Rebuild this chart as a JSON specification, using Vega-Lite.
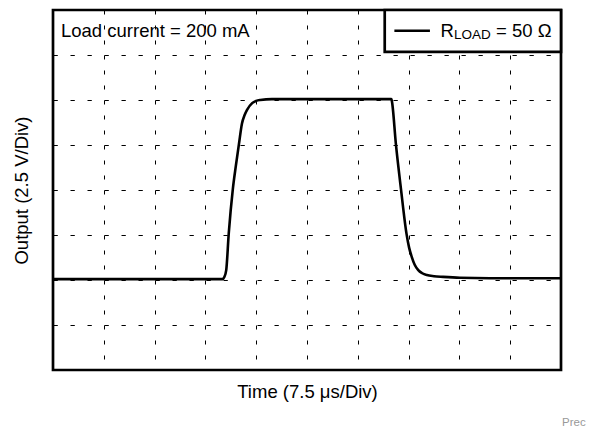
{
  "$schema": "https://vega.github.io/schema/vega-lite/v6.json",
  "width": 508,
  "height": 360,
  "autosize": {"type": "none"},
  "padding": {"left": 53, "top": 10, "right": 28, "bottom": 58},
  "background": "white",
  "config": {
    "view": {"stroke": "black", "strokeWidth": 2.7},
    "font": "Liberation Sans",
    "text": {"font": "Liberation Sans", "color": "black"}
  },
  "datasets": {
    "trace": [
      {"t": 0, "v": 2.02},
      {"t": 3.34, "v": 2.02},
      {"t": 3.37, "v": 2.06},
      {"t": 3.41, "v": 2.22},
      {"t": 3.46, "v": 3.04},
      {"t": 3.54, "v": 4.02},
      {"t": 3.60, "v": 4.54},
      {"t": 3.66, "v": 5.02},
      {"t": 3.72, "v": 5.48},
      {"t": 3.77, "v": 5.66},
      {"t": 3.82, "v": 5.78},
      {"t": 3.92, "v": 5.93},
      {"t": 4.00, "v": 5.98},
      {"t": 4.08, "v": 6.0},
      {"t": 4.31, "v": 6.02},
      {"t": 6.66, "v": 6.02},
      {"t": 6.67, "v": 5.98},
      {"t": 6.75, "v": 5.02},
      {"t": 6.85, "v": 4.02},
      {"t": 6.96, "v": 3.02},
      {"t": 7.01, "v": 2.72},
      {"t": 7.06, "v": 2.52},
      {"t": 7.12, "v": 2.34},
      {"t": 7.19, "v": 2.22},
      {"t": 7.27, "v": 2.15},
      {"t": 7.36, "v": 2.11},
      {"t": 7.50, "v": 2.085},
      {"t": 7.68, "v": 2.07},
      {"t": 8.01, "v": 2.05},
      {"t": 8.6, "v": 2.04},
      {"t": 10, "v": 2.04}
    ],
    "one": [{}]
  },
  "layer": [
    {
      "data": {"name": "trace"},
      "mark": {"type": "line", "color": "black", "strokeWidth": 2.6, "interpolate": "monotone", "strokeJoin": "round"},
      "encoding": {
        "x": {
          "field": "t", "type": "quantitative",
          "scale": {"domain": [0, 10], "nice": false, "zero": false},
          "axis": {
            "title": "Time (7.5 μs/Div)",
            "values": [1, 2, 3, 4, 5, 6, 7, 8, 9],
            "grid": true, "gridDash": [4, 11], "gridColor": "black", "gridWidth": 1, "gridOpacity": 1,
            "labels": false, "ticks": false, "domain": false,
            "titleFont": "Liberation Sans", "titleFontSize": 18.5, "titleFontWeight": "normal", "titleColor": "black",
            "titlePadding": 12
          }
        },
        "y": {
          "field": "v", "type": "quantitative",
          "scale": {"domain": [0, 8], "nice": false, "zero": false},
          "axis": {
            "title": "Output (2.5 V/Div)",
            "values": [1, 2, 3, 4, 5, 6, 7],
            "grid": true, "gridDash": [4.3, 12.7], "gridColor": "black", "gridWidth": 1, "gridOpacity": 1,
            "labels": false, "ticks": false, "domain": false,
            "titleFont": "Liberation Sans", "titleFontSize": 18.5, "titleFontWeight": "normal", "titleColor": "black",
            "titlePadding": 22
          }
        }
      }
    },
    {
      "data": {"name": "one"},
      "mark": {"type": "text", "align": "left", "baseline": "alphabetic", "fontSize": 18.5},
      "encoding": {"x": {"datum": 0.157}, "y": {"datum": 7.393}, "text": {"value": "Load current = 200 mA"}}
    },
    {
      "data": {"name": "one"},
      "mark": {"type": "rect", "fill": "white", "stroke": "black", "strokeWidth": 2.7},
      "encoding": {"x": {"datum": 6.53}, "x2": {"datum": 10}, "y": {"datum": 7.07}, "y2": {"datum": 8}}
    },
    {
      "data": {"name": "one"},
      "mark": {"type": "rule", "color": "black", "strokeWidth": 2.6},
      "encoding": {"x": {"datum": 6.72}, "x2": {"datum": 7.42}, "y": {"datum": 7.54}}
    },
    {
      "data": {"name": "one"},
      "mark": {"type": "text", "align": "left", "baseline": "alphabetic", "fontSize": 18.5},
      "encoding": {"x": {"datum": 7.63}, "y": {"datum": 7.393}, "text": {"value": "R"}}
    },
    {
      "data": {"name": "one"},
      "mark": {"type": "text", "align": "left", "baseline": "alphabetic", "fontSize": 13.5},
      "encoding": {"x": {"datum": 7.895}, "y": {"datum": 7.356}, "text": {"value": "LOAD"}}
    },
    {
      "data": {"name": "one"},
      "mark": {"type": "text", "align": "left", "baseline": "alphabetic", "fontSize": 18.5},
      "encoding": {"x": {"datum": 8.72}, "y": {"datum": 7.393}, "text": {"value": "= 50 Ω"}}
    },
    {
      "data": {"name": "one"},
      "mark": {"type": "text", "align": "left", "baseline": "alphabetic", "fontSize": 11.5, "color": "#999999"},
      "encoding": {"x": {"datum": 10.02}, "y": {"datum": -1.244}, "text": {"value": "Prec"}}
    }
  ]
}
